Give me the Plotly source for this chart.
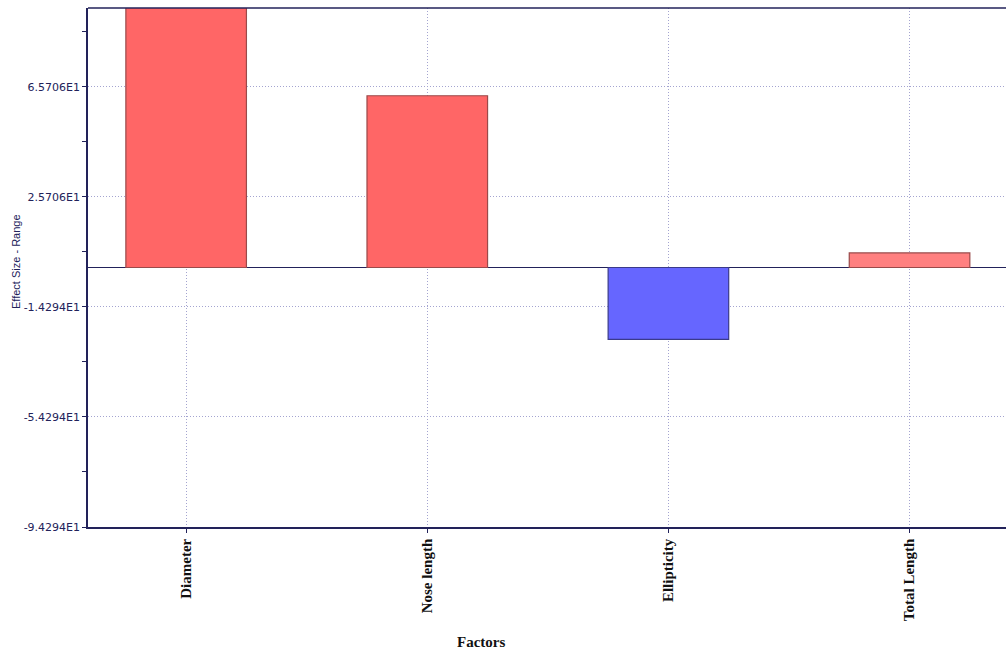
import plotly.graph_objects as go

# Effect sizes (range) per factor
factors = ["Diameter", "Nose length", "Ellipticity", "Total Length"]
effects = [112.0, 62.4, -26.1, 5.3]
bar_colors = ["#ff6666", "#ff6666", "#6666ff", "#ff8080"]
edge_colors = ["#9a4a4a", "#9a4a4a", "#3a3a8a", "#9a4a4a"]

y_ticks = [-94.294, -54.294, -14.294, 25.706, 65.706]
y_tick_text = ["-9.4294E1", "-5.4294E1", "-1.4294E1", "2.5706E1", "6.5706E1"]
y_minor = [-74.294, -34.294, 5.706, 45.706, 85.706]

W, H = 1006, 653
L, R, T, B = 88, 0, 8, 126
navy = "#22225a"
grid = "#a4a4d0"

fig = go.Figure(
    go.Bar(
        x=factors,
        y=effects,
        width=0.5,
        marker=dict(color=bar_colors, line=dict(color=edge_colors, width=1.2)),
        showlegend=False,
    )
)

fig.update_layout(
    width=W,
    height=H,
    margin=dict(l=L, r=R, t=T, b=B),
    plot_bgcolor="white",
    paper_bgcolor="white",
    xaxis=dict(
        range=[-0.407, 3.40],
        showline=True,
        linecolor=navy,
        linewidth=1.5,
        mirror=False,
        showgrid=True,
        gridcolor=grid,
        griddash="1px,2px",
        gridwidth=1,
        ticks="outside",
        ticklen=4,
        tickcolor=navy,
        tickangle=-90,
        tickfont=dict(family="Liberation Serif", size=15, color="#111111", weight="bold"),
    ),
    yaxis=dict(
        range=[-94.294, 94.294],
        tickmode="array",
        tickvals=y_ticks,
        ticktext=y_tick_text,
        showline=True,
        linecolor=navy,
        linewidth=1.5,
        showgrid=True,
        gridcolor=grid,
        griddash="1px,2px",
        gridwidth=1,
        zeroline=True,
        zerolinecolor=navy,
        zerolinewidth=1.2,
        ticks="outside",
        ticklen=4,
        tickcolor=navy,
        tickfont=dict(family="DejaVu Sans", size=11, color=navy),
        minor=dict(tickmode="array", tickvals=y_minor, ticks="outside",
                   ticklen=4, tickcolor=navy, showgrid=False),
    ),
    shapes=[
        # top frame line of the plot area
        dict(type="line", xref="paper", yref="paper", x0=0, x1=1, y0=1, y1=1,
             line=dict(color=navy, width=1.5)),
    ],
    annotations=[
        dict(
            text="Effect Size - Range",
            textangle=-90,
            xref="paper", yref="paper",
            x=(16 - L) / (W - L - R), y=1 - (262 - T) / (H - T - B),
            xanchor="center", yanchor="middle",
            showarrow=False,
            font=dict(family="Liberation Sans", size=11, color=navy),
        ),
        dict(
            text="Factors",
            xref="paper", yref="paper",
            x=(481 - L) / (W - L - R), y=1 - (642 - T) / (H - T - B),
            xanchor="center", yanchor="middle",
            showarrow=False,
            font=dict(family="Liberation Serif", size=15, color="#111111", weight="bold"),
        ),
    ],
)

fig.write_html("out.html")
